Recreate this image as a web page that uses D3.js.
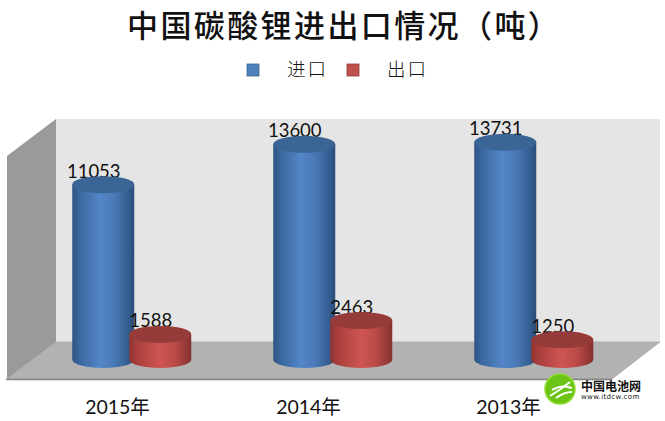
<!DOCTYPE html>
<html>
<head>
<meta charset="utf-8">
<script src="https://cdn.jsdelivr.net/npm/d3@7"></script>
<style>
  html, body { margin: 0; padding: 0; background: #fff; }
  svg { display: block; }
  text { font-family: "Noto Sans CJK SC", sans-serif; fill: #111; }
</style>
</head>
<body>
<div id="chart"></div>
<script>
// data
const categories = ["2015年", "2014年", "2013年"];
const seriesNames = ["进口", "出口"];
const imports = [11053, 13600, 13731];
const exports_ = [1588, 2463, 1250];
const titleText = "中国碳酸锂进出口情况（吨）";

const width = 665, height = 421;
const rx = 31, ry = 8.5;

const svg = d3.select("#chart").append("svg")
  .attr("width", width)
  .attr("height", height);

const defs = svg.append("defs");

function cylinderGradient(id, stops) {
  defs.append("linearGradient").attr("id", id)
    .selectAll("stop").data(stops).join("stop")
    .attr("offset", d => d[0])
    .attr("stop-color", d => d[1]);
}
cylinderGradient("blueBody", [[0, "#2d5482"], [0.12, "#3a679e"], [0.45, "#5386c9"], [0.7, "#4877b3"], [0.93, "#31598a"], [1, "#2b4d78"]]);
cylinderGradient("redBody", [[0, "#8c3331"], [0.12, "#a83f3d"], [0.5, "#cf5552"], [0.75, "#b84a47"], [0.95, "#8f3533"], [1, "#84302e"]]);

// scales
const x = d3.scaleBand().domain(categories).range([2.5, 605.5]);
const xInner = d3.scaleBand().domain(seriesNames).range([72, 191]).padding(0);
const y = d3.scaleLinear().domain([0, 14000]).range([359.5, 138]);

// walls and floor
const wall = d3.line();
svg.append("path")
  .attr("d", wall([[56, 119], [660, 119], [660, 342], [56, 342]]) + "Z")
  .attr("fill", "#e5e5e5");
svg.append("path")
  .attr("d", wall([[7, 156], [56, 119], [56, 342], [7, 379]]) + "Z")
  .attr("fill", "#9a9a9a");
svg.append("path")
  .attr("d", wall([[7, 379], [56, 342], [660, 342], [612, 379]]) + "Z")
  .attr("fill", "#b2b2b2")
  .attr("stroke", "#a0a0a0")
  .attr("stroke-width", 0.6);
svg.append("path")
  .attr("d", wall([[6, 379.5], [612, 379.5]]))
  .attr("stroke", "#858585")
  .attr("stroke-width", 1.5)
  .attr("fill", "none");

const cx = d => x(d.c) - x(categories[0]) + xInner(d.s) + xInner.bandwidth() / 2 + (d.s === seriesNames[1] ? -1 : 1.5);

// each series: labels first so the caps clip them, exports end up over imports
function drawSeries(name, values, bodyFill, capFill) {
  const rows = categories.map((c, i) => ({ c, s: name, v: values[i] }));
  const g = svg.append("g");

  g.selectAll("text").data(rows).join("text")
    .attr("x", d => cx(d) - 9.5)
    .attr("y", d => y(d.v) - 7)
    .attr("text-anchor", "middle")
    .style("font-family", "Lato, sans-serif")
    .style("font-size", "18.5px")
    .text(d => d.v);

  g.selectAll("path").data(rows).join("path")
    .attr("d", d => {
      const c = cx(d), t = y(d.v), b = y(0);
      return `M${c - rx},${t}L${c - rx},${b}A${rx},${ry} 0 0 0 ${c + rx},${b}L${c + rx},${t}Z`;
    })
    .attr("fill", bodyFill);

  g.selectAll("ellipse").data(rows).join("ellipse")
    .attr("cx", cx)
    .attr("cy", d => y(d.v))
    .attr("rx", rx)
    .attr("ry", ry)
    .attr("fill", capFill);
}
drawSeries(seriesNames[0], imports, "url(#blueBody)", "#3a6595");
drawSeries(seriesNames[1], exports_, "url(#redBody)", "#953b39");

// category axis
const axis = svg.append("g")
  .attr("transform", "translate(0,398)")
  .call(d3.axisBottom(d3.scalePoint().domain(categories).range([117, 508]))
    .tickSize(0).tickPadding(0));
axis.select(".domain").remove();
axis.selectAll("text")
  .attr("x", d => d === categories[1] ? -4.5 : 0)
  .attr("y", 0)
  .attr("dy", "0.8em")
  .style("font-family", "Lato, 'Noto Sans CJK SC', sans-serif")
  .style("font-size", "19.5px")
  .attr("fill", "#111");

// title
svg.append("text")
  .attr("x", 127)
  .attr("y", 37)
  .style("font-size", "31px")
  .style("font-weight", 500)
  .style("letter-spacing", "2.4px")
  .text(titleText);

// legend
const legendX = [247, 347];
const legendColor = ["#4f81bd", "#c0504d"];
const legendStroke = ["#3a6595", "#953b39"];
const legend = svg.append("g").selectAll("g").data(seriesNames).join("g");
legend.append("rect")
  .attr("x", (d, i) => legendX[i])
  .attr("y", 64)
  .attr("width", 12)
  .attr("height", 12)
  .attr("fill", (d, i) => legendColor[i])
  .attr("stroke", (d, i) => legendStroke[i])
  .attr("stroke-width", 0.8);
legend.append("text")
  .attr("x", (d, i) => legendX[i] + 40)
  .attr("y", 76)
  .style("font-size", "18.5px")
  .style("font-weight", 300)
  .style("letter-spacing", "2px")
  .text(d => d);

// watermark logo
const logo = svg.append("g");
logo.append("circle").attr("cx", 560).attr("cy", 389).attr("r", 15)
  .attr("fill", "#6cc417").attr("stroke", "#8fdc2e").attr("stroke-width", 1.5);
logo.selectAll("path").data([[550, 396, 570, 382], [552, 390, 572, 388], [556, 398, 572, 392]]).join("path")
  .attr("d", d => `M${d[0]},${d[1]}Q${(d[0] + d[2]) / 2},${d[1] - 6} ${d[2]},${d[3]}`)
  .attr("fill", "none")
  .attr("stroke", "#fff")
  .attr("stroke-width", 2);
logo.append("text").attr("x", 581).attr("y", 391)
  .style("font-size", "12px").style("font-weight", 700)
  .text("中国电池网");
logo.append("text").attr("x", 581).attr("y", 399)
  .style("font-family", "'DejaVu Sans', sans-serif")
  .style("font-size", "7px")
  .style("letter-spacing", "0.35px")
  .text("www.itdcw.com");
</script>
</body>
</html>
